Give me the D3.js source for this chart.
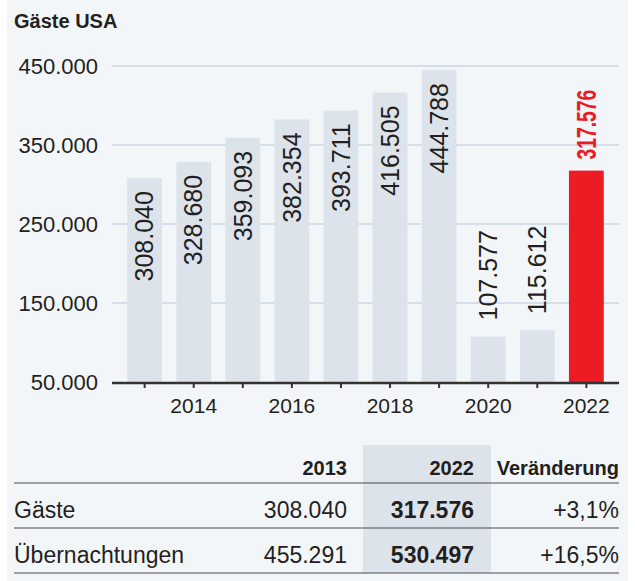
<!DOCTYPE html>
<html>
<head>
<meta charset="utf-8">
<script src="https://cdn.jsdelivr.net/npm/d3@7"></script>
<style>
  body { margin: 0; background: #fff; }
  svg { display: block; font-family: "Liberation Sans", Arial, sans-serif; }
</style>
</head>
<body>
<svg id="chart" width="635" height="581"></svg>
<script>
// data
const years = [2013, 2014, 2015, 2016, 2017, 2018, 2019, 2020, 2021, 2022]
const guests = [308040, 328680, 359093, 382354, 393711, 416505, 444788, 107577, 115612, 317576]
const yTicks = [50000, 150000, 250000, 350000, 450000]
const xLabels = [2014, 2016, 2018, 2020, 2022]

const rowNames = ["Gäste", "Übernachtungen"]
const values2013 = [308040, 455291]
const values2022 = [317576, 530497]
const change = [3.1, 16.5]
const colHeads = ["2013", "2022", "Veränderung"]

const de = d3.formatLocale({decimal: ",", thousands: ".", grouping: [3], currency: ["", " €"]})
const fmt = de.format(",d")
const fmtPct = v => "+" + de.format(".1f")(v) + "%"

const ink = "#231f20"
const red = "#ed1c24"
const barGrey = "#dde3eb"

const svg = d3.select("#chart")

svg.append("rect")
    .attr("x", 7).attr("y", 0)
    .attr("width", 621).attr("height", 581)
    .attr("fill", "#f3f6f8")

svg.append("text")
    .attr("x", 14).attr("y", 28)
    .attr("font-size", 20).attr("font-weight", "bold")
    .attr("fill", ink)
    .text("Gäste USA")

const x = d3.scaleBand()
    .domain(years)
    .range([112, 619])
    .paddingInner(0.29)
    .paddingOuter(0.31)

const y = d3.scaleLinear()
    .domain([50000, 450000])
    .range([382, 66])

// grid
svg.append("g")
    .selectAll("line")
    .data(yTicks.filter(d => d > 50000))
    .enter()
    .append("line")
    .attr("x1", 112).attr("x2", 619)
    .attr("y1", d => y(d)).attr("y2", d => y(d))
    .attr("stroke", "#b9c8d8").attr("stroke-width", 1)

// y axis labels
const yAxis = svg.append("g")
    .attr("transform", "translate(112,0)")
    .call(d3.axisLeft(y).tickValues(yTicks).tickFormat(fmt).tickSize(0).tickPadding(14))
yAxis.select(".domain").remove()
yAxis.selectAll("text")
    .attr("font-size", 22).attr("font-family", "Liberation Sans, Arial, sans-serif")
    .attr("fill", ink)

// bars
svg.append("g")
    .selectAll("rect")
    .data(years)
    .enter()
    .append("rect")
    .attr("x", d => x(d))
    .attr("width", x.bandwidth())
    .attr("y", (d, i) => y(guests[i]))
    .attr("height", (d, i) => y(50000) - y(guests[i]))
    .attr("fill", d => d === 2022 ? red : barGrey)

// value labels
svg.append("g")
    .selectAll("text")
    .data(years)
    .enter()
    .append("text")
    .attr("transform", (d, i) => {
        const cx = x(d) + x.bandwidth() / 2
        const top = y(guests[i])
        let ty
        if (d === 2022) ty = top - 11
        else if (guests[i] > 200000) ty = top + 13
        else ty = top - 16
        return `translate(${cx},${ty}) rotate(-90)`
    })
    .attr("dy", "0.35em")
    .attr("text-anchor", (d, i) => (d !== 2022 && guests[i] > 200000) ? "end" : "start")
    .attr("font-size", d => d === 2022 ? 28 : 25)
    .attr("font-weight", d => d === 2022 ? "bold" : "normal")
    .attr("fill", d => d === 2022 ? red : ink)
    .each(function(d) {
        if (d === 2022) d3.select(this).attr("textLength", 70).attr("lengthAdjust", "spacingAndGlyphs")
    })
    .text((d, i) => fmt(guests[i]))

// x axis
const xAxis = svg.append("g")
    .attr("transform", "translate(0,383)")
    .call(d3.axisBottom(x)
        .tickFormat(d => xLabels.includes(d) ? d : "")
        .tickSize(5).tickSizeOuter(0).tickPadding(10))
xAxis.select(".domain")
    .attr("stroke", "#333").attr("stroke-width", 2.5)
    .attr("d", "M112,0H619")
xAxis.selectAll(".tick line").attr("stroke", "#333").attr("stroke-width", 2)
xAxis.selectAll("text")
    .attr("font-size", 21).attr("font-family", "Liberation Sans, Arial, sans-serif")
    .attr("fill", ink)

// table
const table = svg.append("g")
const colRight = [347, 474, 619]
const headY = 475
const rowY = [518, 563]
const lineY = [483, 528, 573]

table.append("rect")
    .attr("x", 363).attr("y", 445)
    .attr("width", 128).attr("height", 128)
    .attr("fill", barGrey)

table.selectAll("line")
    .data(lineY)
    .enter()
    .append("line")
    .attr("x1", 14).attr("x2", 619)
    .attr("y1", d => d).attr("y2", d => d)
    .attr("stroke", "#4a4a4a").attr("stroke-width", 1.2)

table.selectAll("text.head")
    .data(colHeads)
    .enter()
    .append("text")
    .attr("class", "head")
    .attr("x", (d, i) => colRight[i]).attr("y", headY)
    .attr("text-anchor", "end")
    .attr("font-size", 20).attr("font-weight", "bold")
    .attr("fill", ink)
    .text(d => d)

rowNames.forEach((name, r) => {
    const cells = [
        {x: 14, anchor: "start", bold: false, t: name},
        {x: colRight[0], anchor: "end", bold: false, t: fmt(values2013[r])},
        {x: colRight[1], anchor: "end", bold: true, t: fmt(values2022[r])},
        {x: colRight[2], anchor: "end", bold: false, t: fmtPct(change[r])}
    ]
    table.append("g")
        .selectAll("text")
        .data(cells)
        .enter()
        .append("text")
        .attr("x", d => d.x).attr("y", rowY[r])
        .attr("text-anchor", d => d.anchor)
        .attr("font-size", 23)
        .attr("font-weight", d => d.bold ? "bold" : "normal")
        .attr("fill", ink)
        .text(d => d.t)
})
</script>
</body>
</html>
